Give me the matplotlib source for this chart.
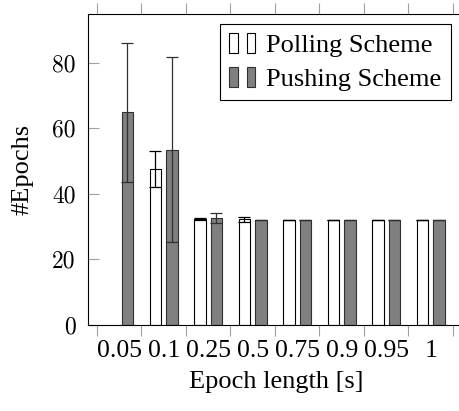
import numpy as np
import matplotlib
matplotlib.use("Agg")
import matplotlib.pyplot as plt
from matplotlib.legend_handler import HandlerBase
from matplotlib.patches import Rectangle

# data
epoch_labels = ["0.05", "0.1", "0.25", "0.5", "0.75", "0.9", "0.95", "1"]
polling_mean = [np.nan, 47.5, 32.2, 32.2, 32.0, 32.0, 32.0, 32.0]
polling_err = [0.0, 5.5, 0.3, 0.75, 0.0, 0.0, 0.0, 0.0]
pushing_mean = [64.8, 53.4, 32.6, 32.0, 32.0, 32.0, 32.0, 32.0]
pushing_err = [21.3, 28.2, 1.6, 0.0, 0.0, 0.0, 0.0, 0.0]

plt.rcParams['font.family'] = ['Liberation Serif', 'DejaVu Serif']


class TwinRectHandler(HandlerBase):
    # pgfplots-style ybar legend: two small bars side by side
    def create_artists(self, legend, orig_handle, xdescent, ydescent,
                       width, height, fontsize, trans):
        w = width * 0.33
        arts = []
        for x0 in (0, width * 0.66):
            r = Rectangle((x0 - xdescent, -ydescent), w, height,
                          facecolor=orig_handle.get_facecolor(),
                          edgecolor=orig_handle.get_edgecolor(),
                          linewidth=0.8, transform=trans)
            arts.append(r)
        return arts


fig = plt.figure(figsize=(4.6, 4.11), dpi=100)
ax = fig.add_axes([88 / 460, 1 - 325 / 411, 376 / 460, 311 / 411])

x = np.arange(len(epoch_labels))
off = 0.185
bw = 0.26

b1 = ax.bar(x - off, polling_mean, bw, color='white', edgecolor='black',
            linewidth=0.8, zorder=2)
b2 = ax.bar(x + off, pushing_mean, bw, color='#808080', edgecolor='#303030',
            linewidth=0.8, zorder=2)
ax.errorbar(x - off, polling_mean, yerr=polling_err, fmt='none',
            ecolor='black', elinewidth=0.9, capsize=4, capthick=0.9, zorder=3)
ax.errorbar(x + off, pushing_mean, yerr=pushing_err, fmt='none',
            ecolor='#303030', elinewidth=0.9, capsize=4, capthick=0.9, zorder=3)

ax.set_xlim(-0.7, 7.75)
ax.set_ylim(0, 94.8)

# ticks at group edges, labels at group centres
ax.set_xticks(np.append(x - 0.5, 7.5), [''] * (len(x) + 1))
ax.set_xticks(x, epoch_labels, minor=True)
ax.tick_params(axis='x', which='major', direction='out', length=8, width=0.8,
               color='#a0a0a0', top=True, bottom=True)
ax.tick_params(axis='x', which='minor', length=0, pad=11, labelsize=18.5)

ax.set_yticks([0, 20, 40, 60, 80])
ax.tick_params(axis='y', direction='in', length=8, width=0.8,
               color='#a0a0a0', pad=9)
for lab in ax.get_yticklabels():
    lab.set_fontfamily('cmr10')
    lab.set_fontsize(17)

for sp in ax.spines.values():
    sp.set_linewidth(0.8)
# right edge of the axis falls outside the cropped figure
ax.spines['right'].set_visible(False)

ax.set_xlabel('Epoch length [s]', fontsize=19, labelpad=6)
ax.set_ylabel('#Epochs', fontsize=19, labelpad=13)

ax.legend([b1.patches[1], b2.patches[1]], ['Polling Scheme', 'Pushing Scheme'],
          handler_map={Rectangle: TwinRectHandler()},
          loc='upper left', bbox_to_anchor=(0.351, 0.968),
          prop={'family': 'Liberation Serif', 'size': 19},
          frameon=True, fancybox=False, framealpha=1,
          edgecolor='black', borderpad=0.35, borderaxespad=0,
          handlelength=1.0, handleheight=0.8, handletextpad=0.4,
          labelspacing=0.35)
ax.get_legend().get_frame().set_linewidth(0.8)

fig.savefig('out.png', dpi=100)
